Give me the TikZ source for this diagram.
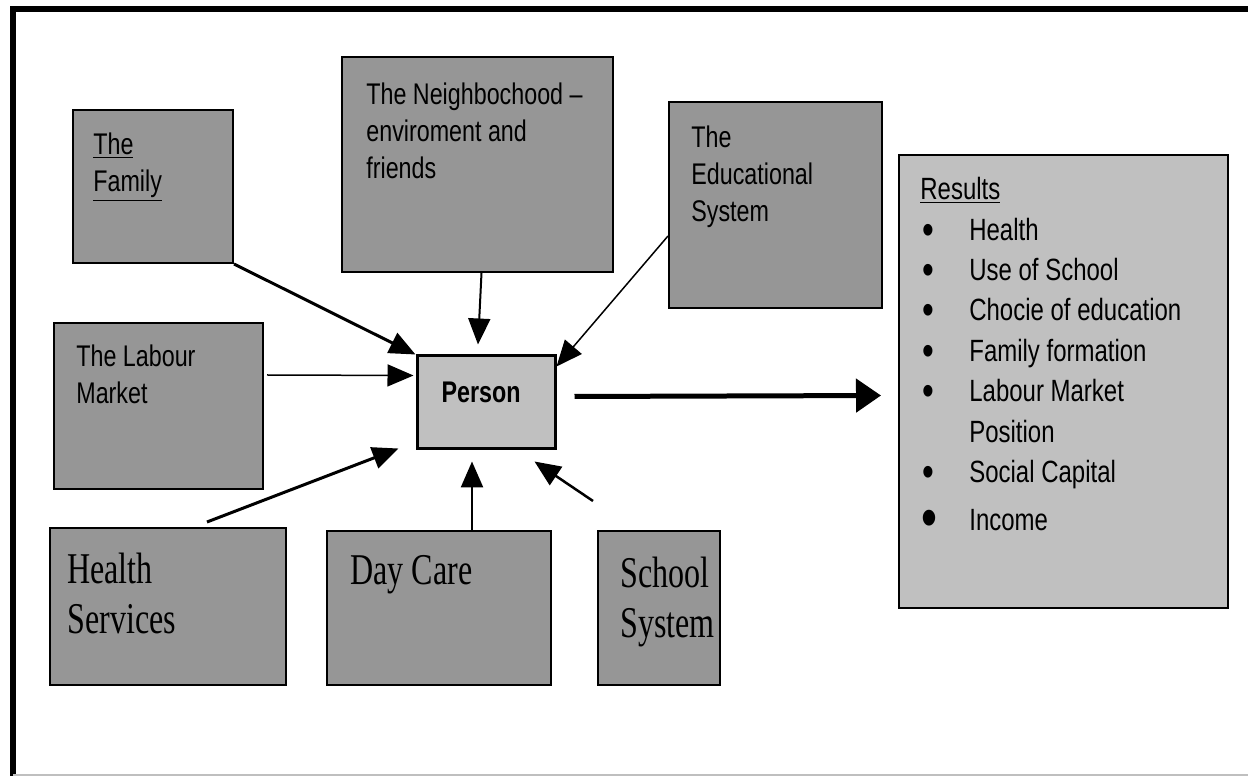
\documentclass[tikz,border=0pt]{standalone}
\usepackage{fontspec}
\setmainfont{Liberation Sans}[FakeStretch=0.78]
\newfontfamily\timesfont{Liberation Serif}[FakeStretch=0.73]
\usetikzlibrary{fit}
\usetikzlibrary{positioning,shapes,arrows.meta,calc}
\definecolor{boxgray}{RGB}{150,150,150}
\definecolor{persongray}{RGB}{192,192,192}
\tikzstyle{factor}=[rectangle, draw=black, line width=0.04cm, fill=boxgray, inner sep=0pt]
\tikzstyle{core}=[rectangle, draw=black, line width=0.06cm, fill=persongray, inner sep=0pt]
\tikzstyle{result}=[rectangle, draw=black, line width=0.04cm, fill=persongray, inner sep=0pt]
\tikzstyle{boxtext}=[anchor=north west, inner sep=0pt, align=left, font=\fontsize{17}{21}\selectfont]
\tikzstyle{serifboxtext}=[anchor=north west, inner sep=0pt, align=left, font=\timesfont\fontsize{25}{28}\selectfont]
\tikzstyle{myarrow}=[-{Triangle[length=0.52cm,width=0.44cm]}, line width=0.04cm]
\newcommand{\resitem}{\makebox[0.98cm][l]{\hspace*{0.04cm}\raisebox{-0.13em}{\scalebox{1.4}{\textbullet}}}}

\begin{document}
\begin{tikzpicture}[x=0.02cm, y=-0.02cm]

        \useasboundingbox (0,0) rectangle (1248,776);

        % Frame
        \draw[line width=0.11cm] (13,776) -- (13,9) -- (1248,9);
        \draw[gray!50, line width=0.04cm] (13,775) -- (1248,775);

        % Top row
        \node (family) [factor, fit={(73,110) (233,263)}] {};
        \node (family-text) [boxtext] at (93,133) {\underline{The}\\\underline{Family}};

        \node (neigh) [factor, fit={(342,57) (613,272)}] {};
        \node (neigh-text) [boxtext] at (366,83) {The Neighbochood --\\enviroment and\\friends};

        \node (edu) [factor, fit={(669,102) (882,308)}] {};
        \node (edu-text) [boxtext] at (691,126) {The\\Educational\\System};

        % Middle row
        \node (labour) [factor, fit={(54,323) (263,489)}] {};
        \node (labour-text) [boxtext] at (76,345) {The Labour\\Market};

        \node (person) [core, fit={(417,356) (555,449)}] {};
        \node (person-text) [font=\fontsize{17}{21}\selectfont, inner sep=0pt] at (481,392) {\textbf{Person}};

        \node (results) [result, fit={(899,155) (1228,608)}] {};
        \node (results-text) [boxtext, font=\fontsize{17.5}{23}\selectfont] at (920,177) {\underline{Results}\\
            \resitem Health\\
            \resitem Use of School\\
            \resitem Chocie of education\\
            \resitem Family formation\\
            \resitem Labour Market\\
            \hspace*{0.98cm}Position\\
            \resitem Social Capital\\[0.16cm]
            \makebox[0.98cm][l]{\hspace*{0.02cm}\raisebox{-0.23em}{\scalebox{1.9}{\textbullet}}}Income};

        % Bottom row
        \node (health) [factor, fit={(50,528) (286,685)}] {};
        \node (health-text) [serifboxtext] at (67,553) {Health\\Services};

        \node (daycare) [factor, fit={(327,531) (551,685)}] {};
        \node (daycare-text) [serifboxtext] at (350,555) {Day Care};

        \node (school) [factor, fit={(598,531) (720,685)}] {};
        \node (school-text) [serifboxtext] at (620,557) {School\\System};

        %Arrows
        \draw[myarrow, line width=0.06cm] (family.south east) -- (person.north west);
        \draw[myarrow] ($(neigh.south)+(4,0)$) -- ($(person.north)+(-8,-10)$);
        \draw[myarrow, line width=0.03cm] ($(edu.west)+(0,31)$) -- ($(person.north east)+(0,12)$);
        \draw[myarrow, line width=0.03cm] ($(labour.east)+(3,-31)$) -- ($(person.west)+(-2,-27)$);
        \draw[myarrow, line width=0.06cm] ($(health.north)+(39,-5)$) -- ($(person.south west)+(-17,-2)$);
        \draw[myarrow, line width=0.05cm] ($(daycare.north)+(33,0)$) -- ($(person.south)+(-14,11)$);
        \draw[myarrow, line width=0.05cm] ($(school.north west)+(-4,-29)$) -- ($(person.south east)+(-22,11)$);

        %Person -> Results
        \draw[myarrow, line width=0.1cm, -{Triangle[length=0.5cm,width=0.66cm]}] ($(person.east)+(18,-6)$) -- ($(results.west)+(-17,14)$);

\end{tikzpicture}
\end{document}
